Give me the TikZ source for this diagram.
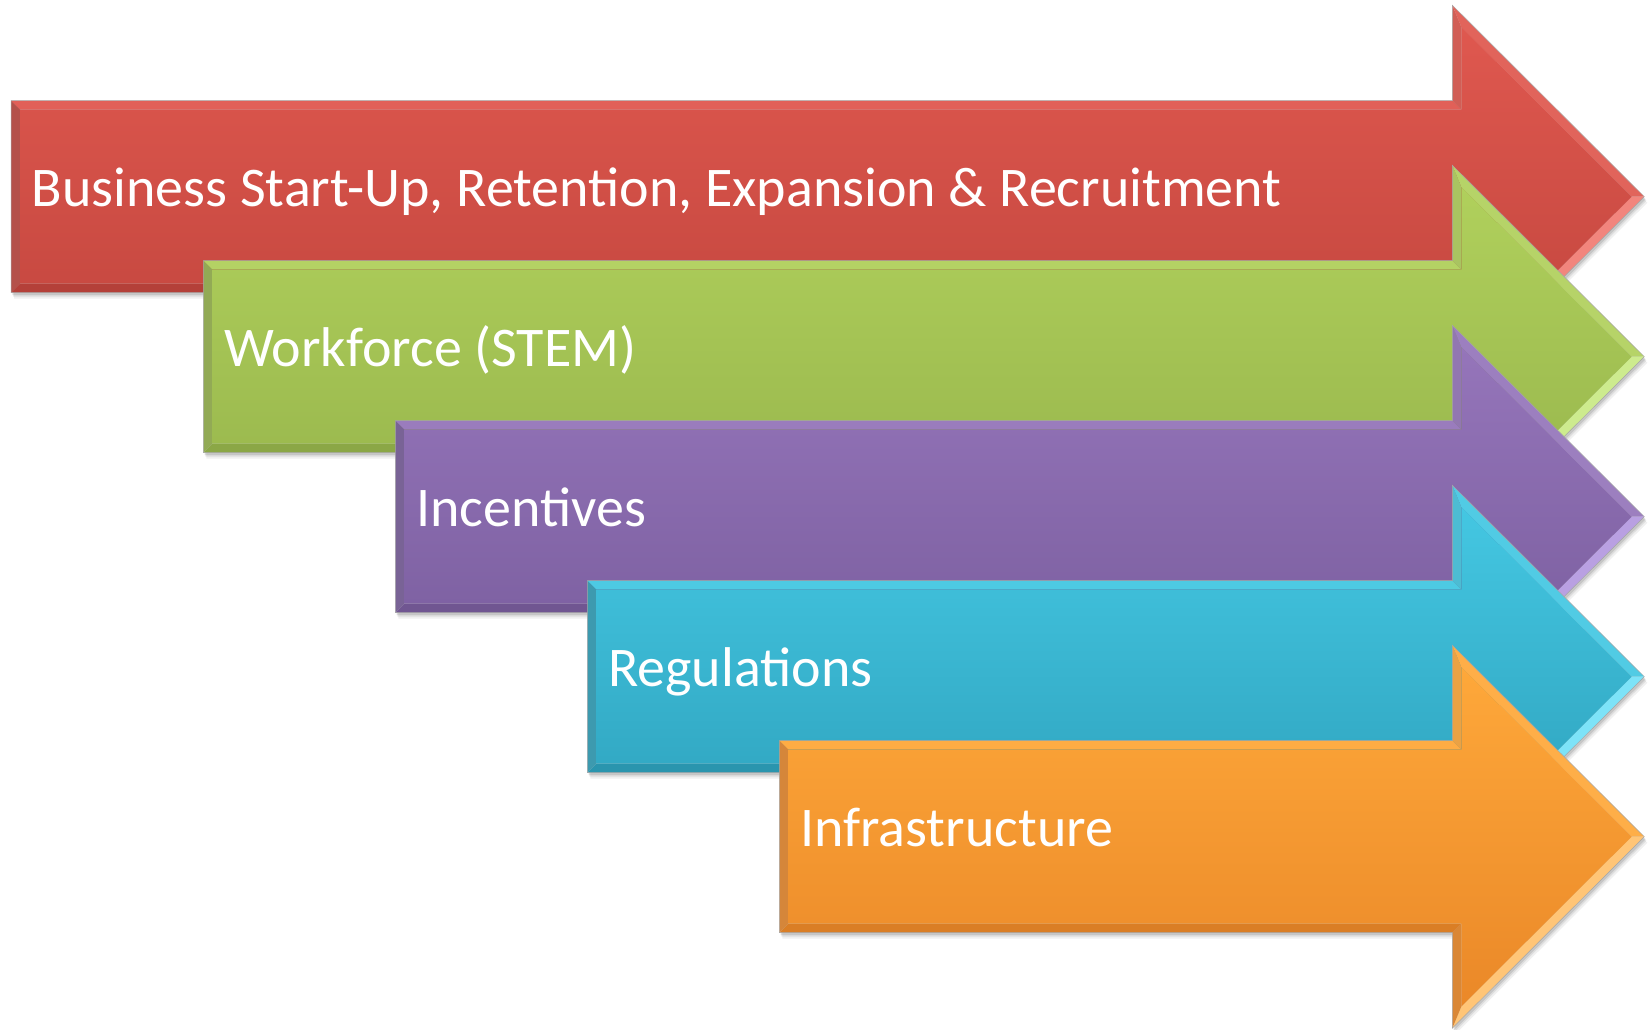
\documentclass[tikz,border=0pt]{standalone}
\usepackage{fontspec}
\setmainfont{Carlito}
\definecolor{rTop}{HTML}{DF584F}\definecolor{rBot}{HTML}{C1453D}\definecolor{rHi}{HTML}{F2857D}
\definecolor{gTop}{HTML}{B0D05C}\definecolor{gBot}{HTML}{96B44B}\definecolor{gHi}{HTML}{CDEB8E}
\definecolor{pTop}{HTML}{9575BA}\definecolor{pBot}{HTML}{785C9C}\definecolor{pHi}{HTML}{B9A0E2}
\definecolor{bTop}{HTML}{44C7E2}\definecolor{bBot}{HTML}{2DA0BB}\definecolor{bHi}{HTML}{7DE3F8}
\definecolor{oTop}{HTML}{FEA83A}\definecolor{oBot}{HTML}{EA8828}\definecolor{oHi}{HTML}{FFC577}
\tikzset{
  lbl/.style={text=white,inner sep=0pt,font=\fontsize{56pt}{62pt}\selectfont},
  edgeline/.style={draw=black!35,line width=0.5pt}
}
\newcommand\bigarrow[5]{%
  \pgfmathsetmacro\axL{#1}\pgfmathsetmacro\axC{#2}%
  \def\axN{1452.3}\def\axT{1644.3}\def\axd{9}%
  \pgfmathsetmacro\axbt{\axC-96}\pgfmathsetmacro\axbb{\axC+96}%
  \pgfmathsetmacro\axht{\axC-191.5}\pgfmathsetmacro\axhb{\axC+191.5}%
  \pgfmathsetmacro\axLi{\axL+\axd}\pgfmathsetmacro\axNi{\axN+\axd}%
  \pgfmathsetmacro\axbti{\axbt+\axd}\pgfmathsetmacro\axbbi{\axbb-\axd}%
  \pgfmathsetmacro\axhti{\axht+\axd*2.414}\pgfmathsetmacro\axhbi{\axhb-\axd*2.414}%
  \pgfmathsetmacro\axTi{\axT-\axd*1.414}%
  % shadow
  \foreach \s/\o in {6/0.06,4/0.08,2.5/0.10}{
    \fill[black,opacity=\o,shift={(\s*0.5,\s)}] (\axL,\axbt) -- (\axN,\axbt) -- (\axN,\axht) -- (\axT,\axC) -- (\axN,\axhb) -- (\axN,\axbb) -- (\axL,\axbb) -- cycle;
  }
  % bevel faces
  \fill[#3Top!95!white] (\axL,\axbt) -- (\axN,\axbt) -- (\axNi,\axbti) -- (\axLi,\axbti) -- cycle;
  \fill[#3Top!85!gray] (\axN,\axbt) -- (\axN,\axht) -- (\axNi,\axhti) -- (\axNi,\axbti) -- cycle;
  \fill[#3Top!93!white] (\axN,\axht) -- (\axT,\axC) -- (\axTi,\axC) -- (\axNi,\axhti) -- cycle;
  \fill[#3Hi] (\axT,\axC) -- (\axN,\axhb) -- (\axNi,\axhbi) -- (\axTi,\axC) -- cycle;
  \fill[#3Bot!85!gray] (\axN,\axhb) -- (\axN,\axbb) -- (\axNi,\axbbi) -- (\axNi,\axhbi) -- cycle;
  \fill[#3Bot!93!black] (\axN,\axbb) -- (\axL,\axbb) -- (\axLi,\axbbi) -- (\axNi,\axbbi) -- cycle;
  \fill[#3Bot!80!gray] (\axL,\axbb) -- (\axL,\axbt) -- (\axLi,\axbti) -- (\axLi,\axbbi) -- cycle;
  % face
  \shade[top color=#3Top,bottom color=#3Bot] (\axLi,\axbti) -- (\axNi,\axbti) -- (\axNi,\axhti) -- (\axTi,\axC) -- (\axNi,\axhbi) -- (\axNi,\axbbi) -- (\axLi,\axbbi) -- cycle;
  \draw[edgeline] (\axL,\axbt) -- (\axN,\axbt) -- (\axN,\axht) -- (\axT,\axC) -- (\axN,\axhb) -- (\axN,\axbb) -- (\axL,\axbb) -- cycle;
  \node[lbl,anchor=base west] (#5) at (\axL+20.7,\axC+9.5) {#4};
}
\begin{document}
\begin{tikzpicture}[x=1pt,y=-1pt]
\useasboundingbox (0,0) rectangle (1648,1030);
\bigarrow{11}{196.7}{r}{Business Start-Up, Retention, Expansion \& Recruitment}{business}
\bigarrow{203.3}{356.7}{g}{Workforce (STEM)}{workforce}
\bigarrow{395.3}{516.7}{p}{Incentives}{incentives}
\bigarrow{587.3}{676.7}{b}{Regulations}{regulations}
\bigarrow{779.3}{836.7}{o}{Infrastructure}{infrastructure}
\end{tikzpicture}
\end{document}
